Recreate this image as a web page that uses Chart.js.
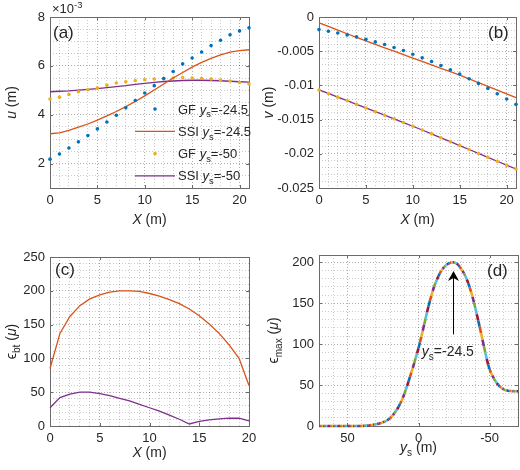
<!DOCTYPE html>
<html>
<head>
<meta charset="utf-8">
<script src="https://cdn.jsdelivr.net/npm/chart.js@4.4.1/dist/chart.umd.min.js"></script>
<style>
  body { margin: 0; background: #fff; }
  #fig { position: relative; width: 520px; height: 470px; }
  #fig canvas { position: absolute; }
</style>
</head>
<body>
<div id="fig">
  <canvas id="cA" width="260" height="235" style="left:0;top:0"></canvas>
  <canvas id="cB" width="260" height="235" style="left:260px;top:0"></canvas>
  <canvas id="cC" width="260" height="235" style="left:0;top:235px"></canvas>
  <canvas id="cD" width="260" height="235" style="left:260px;top:235px"></canvas>
</div>
<script>
// (a) horizontal displacement u, in units of 10^-3 m
const xA = [0, 1, 2, 3, 4, 5, 6, 7, 8, 9, 10, 11, 12, 13, 14, 15, 16, 17, 18, 19, 20, 21];
const uGF245 = [2.18, 2.39, 2.64, 2.89, 3.15, 3.42, 3.70, 3.98, 4.28, 4.58, 4.89, 5.19, 5.48, 5.77, 6.08, 6.32, 6.57, 6.83, 7.05, 7.27, 7.43, 7.56];
const uSSI245 = [3.22, 3.26, 3.36, 3.49, 3.62, 3.78, 3.95, 4.13, 4.33, 4.54, 4.77, 5.01, 5.26, 5.50, 5.73, 5.95, 6.14, 6.31, 6.45, 6.56, 6.62, 6.66];
const uGF50 = [4.64, 4.72, 4.83, 4.94, 5.02, 5.10, 5.21, 5.30, 5.35, 5.40, 5.43, 5.46, 5.49, 5.50, 5.52, 5.50, 5.49, 5.46, 5.42, 5.38, 5.32, 5.26];
const uSSI50 = [4.94, 4.96, 4.98, 5.01, 5.04, 5.07, 5.11, 5.15, 5.19, 5.24, 5.28, 5.32, 5.36, 5.38, 5.40, 5.41, 5.41, 5.40, 5.39, 5.37, 5.35, 5.33];
const legendNames = ['GF', 'SSI', 'GF', 'SSI'];
const legendYs = ['-24.5', '-24.5', '-50', '-50'];

// (b) vertical displacement v (m)
const vGF245 = [-0.00184, -0.00209, -0.00233, -0.00262, -0.00291, -0.00325, -0.00364, -0.00403, -0.00447, -0.00490, -0.00544,
  -0.00597, -0.00650, -0.00709, -0.00772, -0.00835, -0.00903, -0.00971, -0.01044, -0.01121, -0.01199, -0.01277];
const vSSI245 = [-0.00087, -0.00138, -0.00192, -0.00245, -0.00297, -0.00350, -0.00400, -0.00450, -0.00500, -0.00550, -0.00600,
  -0.00650, -0.00700, -0.00750, -0.00800, -0.00850, -0.00905, -0.00960, -0.01015, -0.01070, -0.01125, -0.01180];
const vGF50 = [-0.01068, -0.01120, -0.01172, -0.01225, -0.01277, -0.01330, -0.01383, -0.01436, -0.01489, -0.01542, -0.01595,
  -0.01651, -0.01708, -0.01765, -0.01822, -0.01880, -0.01937, -0.01994, -0.02051, -0.02108, -0.02166, -0.02223];
const vSSI50 = [-0.01066, -0.01118, -0.01171, -0.01224, -0.01277, -0.01330, -0.01383, -0.01436, -0.01489, -0.01543, -0.01597,
  -0.01652, -0.01709, -0.01766, -0.01823, -0.01880, -0.01937, -0.01994, -0.02052, -0.02109, -0.02166, -0.02222];

// (c) bending strain along X (micro-strain)
const xC = [0, 1, 2, 3, 4, 5, 6, 7, 8, 9, 10, 11, 12, 13, 14, 15, 16, 17, 18, 19, 20];
const ebt245 = [85, 137, 162, 178, 188, 194, 198, 200, 200, 199, 196, 192, 187, 181, 173, 163, 151, 137, 120, 100, 60];
const ebt50 = [27, 42, 47, 50, 50, 48, 45, 41, 37, 32, 27, 22, 16, 10, 3, 7, 9, 10.5, 11.5, 11.5, 7.5];

// (d) maximum strain against source position y_s
const ysD = [70, 69, 68, 67, 66, 65, 64, 63, 62, 61,
  60, 59, 58, 57, 56, 55, 54, 53, 52, 51,
  50, 49, 48, 47, 46, 45, 44, 43, 42, 41,
  40, 39, 38, 37, 36, 35, 34, 33, 32, 31,
  30, 29, 28, 27, 26, 25, 24, 23, 22, 21,
  20, 19, 18, 17, 16, 15, 14, 13, 12, 11,
  10, 9, 8, 7, 6, 5, 4, 3, 2, 1,
  0, -1, -2, -3, -4, -5, -6, -7, -8, -9,
  -10, -11, -12, -13, -14, -15, -16, -17, -18, -19,
  -20, -21, -22, -23, -24, -25, -26, -27, -28, -29,
  -30, -31, -32, -33, -34, -35, -36, -37, -38, -39,
  -40, -41, -42, -43, -44, -45, -46, -47, -48, -49,
  -50, -51, -52, -53, -54, -55, -56, -57, -58, -59,
  -60, -61, -62, -63, -64, -65, -66, -67, -68, -69,
  -70];
const emax = [0, 0, 0, 0, 0, 0, 0, 0, 0, 0,
  0, 0, 0, 0, 0, 0, 0, 0, 0, 0,
  0, 0, 0, 0, 0, 0, 0, 0, 0, 0.05,
  0.1, 0.2, 0.3, 0.4, 0.5, 0.7, 0.9, 1.2, 1.5, 1.8,
  2.2, 2.5, 2.9, 3.3, 3.8, 4.5, 5.2, 6.0, 7.0, 8.2,
  9.5, 11.3, 13.3, 15.5, 18.0, 20.5, 23.5, 27.0, 30.5, 34.5,
  39.0, 44.0, 49.0, 54.5, 60.0, 65.5, 71.0, 77.0, 83.0, 89.0,
  95, 102, 109, 116.5, 124, 131.5, 139, 146, 153, 159,
  165, 170.5, 175, 179, 183, 186.5, 189.5, 192, 194.2, 196,
  197.5, 198.6, 199.3, 199.8, 200, 200, 199.5, 198.5, 196.8, 194.6,
  192, 189.5, 186.5, 183, 179, 174.5, 169.5, 164, 158, 151,
  144, 136.5, 129, 121.5, 113.5, 105.5, 97.5, 89.5, 82, 75,
  69.5, 65, 61.5, 58, 55, 52.5, 50.5, 48.5, 47, 45.7,
  44.7, 43.9, 43.3, 43, 42.8, 42.7, 42.6, 42.5, 42.5, 42.5,
  42.5];

// major tick labels
const aXTicks = [0, 5, 10, 15, 20], aYTicks = [2, 4, 6, 8];
const bXTicks = [0, 5, 10, 15, 20], bYTicks = [-0.025, -0.02, -0.015, -0.01, -0.005, 0];
const cXTicks = [0, 5, 10, 15, 20], cYTicks = [0, 50, 100, 150, 200, 250];
const dXTicks = [-50, 0, 50], dYTicks = [0, 50, 100, 150, 200];

const COLORS = ['#0072BD', '#D95319', '#EDB120', '#7E2F8E', '#77AC30', '#4DBEEE', '#A2142F'];
const INK = '#262626';
const BOX = '#6a6a6a';
const FONT = "'Liberation Sans', Arial, sans-serif";
Chart.defaults.font.family = FONT;

function fontFor(st, size) {
  const small = st.endsWith('sub') || st === 'sup';
  return (st.startsWith('i') ? 'italic ' : '') + (small ? size * 0.72 : size) + 'px ' + FONT;
}

function drawRich(ctx, parts, x, y, size, align) {
  let w = 0;
  parts.forEach(([t, st]) => { ctx.font = fontFor(st, size); w += ctx.measureText(t).width; });
  let cx = align === 'center' ? x - w / 2 : x;
  ctx.textAlign = 'left';
  ctx.textBaseline = 'alphabetic';
  parts.forEach(([t, st]) => {
    ctx.font = fontFor(st, size);
    const dy = st.endsWith('sub') ? size * 0.3 : st === 'sup' ? -size * 0.42 : 0;
    ctx.fillText(t, cx, y + dy);
    cx += ctx.measureText(t).width;
  });
}

function drawRotated(ctx, parts, x, y, size) {
  ctx.save();
  ctx.translate(x, y);
  ctx.rotate(-Math.PI / 2);
  drawRich(ctx, parts, 0, size * 0.35, size, 'center');
  ctx.restore();
}

function ticksFor(min, max, step) {
  const n = Math.floor((max - min) / step + 1e-9), out = [];
  for (let i = 0; i <= n; i++) out.push(+(min + i * step).toFixed(6));
  return out;
}

function linAxis(min, max, step, majors, size, reverse) {
  const major = v => majors.find(m => Math.abs(m - v) < step / 100);
  return {
    type: 'linear', min: min, max: max, reverse: !!reverse,
    afterBuildTicks: s => { s.ticks = ticksFor(min, max, step).map(v => ({ value: v })); },
    afterFit: s => {
      if (s.isHorizontal()) s.height = size; else s.width = size;
      s.paddingLeft = s.paddingRight = s.paddingTop = s.paddingBottom = 0;
    },
    ticks: {
      autoSkip: false, maxRotation: 0, minRotation: 0, padding: 5, color: INK,
      font: { size: 13 },
      callback: v => major(v) !== undefined ? String(major(v)) : ''
    },
    grid: {
      drawTicks: false, lineWidth: 1,
      color: c => (c.tick && major(c.tick.value) !== undefined) ? 'rgba(0,0,0,0.32)' : 'rgba(0,0,0,0.2)'
    },
    border: { display: false, dash: [1, 2] }
  };
}

function pts(xs, ys) {
  return xs.map((x, i) => ({ x: x, y: ys[i] }));
}

function dots(label, xs, ys, color) {
  return { label: label, data: pts(xs, ys), showLine: false, pointRadius: 1.8, pointBorderWidth: 0,
    pointBackgroundColor: color, clip: false };
}

function curve(label, xs, ys, color) {
  return { label: label, data: pts(xs, ys), showLine: true, pointRadius: 0, borderColor: color,
    borderWidth: 1.3, clip: false };
}

function decor(spec) {
  return {
    id: 'decor',
    beforeDatasetsDraw(chart) {
      const ctx = chart.ctx, a = chart.chartArea;
      ctx.save();
      ctx.strokeStyle = BOX;
      ctx.lineWidth = 1;
      ctx.strokeRect(a.left + 0.5, a.top + 0.5, a.width, a.height);
      ctx.beginPath();
      spec.xMajor.forEach(m => {
        const p = Math.round(chart.scales.x.getPixelForValue(m)) + 0.5;
        ctx.moveTo(p, a.bottom); ctx.lineTo(p, a.bottom - 3);
        ctx.moveTo(p, a.top); ctx.lineTo(p, a.top + 3);
      });
      spec.yMajor.forEach(m => {
        const p = Math.round(chart.scales.y.getPixelForValue(m)) + 0.5;
        ctx.moveTo(a.left, p); ctx.lineTo(a.left + 3, p);
        ctx.moveTo(a.right, p); ctx.lineTo(a.right - 3, p);
      });
      ctx.stroke();
      ctx.restore();
    },
    afterDraw(chart) {
      const ctx = chart.ctx, a = chart.chartArea;
      ctx.save();
      ctx.fillStyle = INK;
      drawRich(ctx, [[spec.tag, '']], spec.tagX, spec.tagY, 17, 'left');
      drawRich(ctx, spec.xTitle, (a.left + a.right) / 2, spec.xTitleY, 14, 'center');
      drawRotated(ctx, spec.yTitle, spec.yTitleX, (a.top + a.bottom) / 2, 14);
      if (spec.extra) spec.extra(chart, ctx, a);
      ctx.restore();
    }
  };
}

function makeChart(id, datasets, xAxis, yAxis, padding, spec) {
  return new Chart(document.getElementById(id), {
    type: 'scatter',
    data: { datasets: datasets },
    options: {
      responsive: false, animation: false, devicePixelRatio: 1,
      layout: { padding: padding },
      scales: { x: xAxis, y: yAxis },
      plugins: { legend: { display: false }, tooltip: { enabled: false } }
    },
    plugins: [decor(spec)]
  });
}

const xTitle = [['X', 'i'], [' (m)', '']];

makeChart('cA', [
  dots('GF ys=-24.5', xA, uGF245, COLORS[0]),
  curve('SSI ys=-24.5', xA, uSSI245, COLORS[1]),
  dots('GF ys=-50', xA, uGF50, COLORS[2]),
  curve('SSI ys=-50', xA, uSSI50, COLORS[3])
], linAxis(0, 21, 1, aXTicks, 47), linAxis(1, 8, 0.5, aYTicks, 50),
{ top: 17, right: 11, left: 0, bottom: 0 }, {
  xMajor: aXTicks, yMajor: aYTicks, tag: '(a)', tagX: 53, tagY: 38,
  xTitle: xTitle, xTitleY: 224, yTitle: [['u', 'i'], [' (m)', '']], yTitleX: 11,
  extra(chart, ctx, a) {
    drawRich(ctx, [['×10', ''], ['-3', 'sup']], a.left + 2, a.top - 4, 13, 'left');
    legendNames.forEach((name, i) => {
      const ds = chart.data.datasets[i];
      const y = 109 + i * 22.3;
      if (ds.showLine) {
        ctx.strokeStyle = ds.borderColor; ctx.lineWidth = 1.3;
        ctx.beginPath(); ctx.moveTo(135, y); ctx.lineTo(175, y); ctx.stroke();
      } else {
        ctx.fillStyle = ds.pointBackgroundColor;
        ctx.beginPath(); ctx.arc(155, y, 1.8, 0, Math.PI * 2); ctx.fill();
      }
      ctx.fillStyle = INK;
      drawRich(ctx, [[name + ' ', ''], ['y', 'i'], ['s', 'sub'], ['=' + legendYs[i], '']], 178, y + 4.5, 13, 'left');
    });
  }
});

makeChart('cB', [
  dots('GF ys=-24.5', xA, vGF245, COLORS[0]),
  curve('SSI ys=-24.5', xA, vSSI245, COLORS[1]),
  dots('GF ys=-50', xA, vGF50, COLORS[2]),
  curve('SSI ys=-50', xA, vSSI50, COLORS[3])
], linAxis(0, 21, 1, bXTicks, 47), linAxis(-0.025, 0, 0.001, bYTicks, 59),
{ top: 17, right: 1, left: 0, bottom: 0 }, {
  xMajor: bXTicks, yMajor: bYTicks, tag: '(b)', tagX: 228, tagY: 38,
  xTitle: xTitle, xTitleY: 224, yTitle: [['v', 'i'], [' (m)', '']], yTitleX: 8
});

makeChart('cC', [
  curve('ys=-24.5', xC, ebt245, COLORS[1]),
  curve('ys=-50', xC, ebt50, COLORS[3])
], linAxis(0, 20, 1, cXTicks, 44), linAxis(0, 250, 10, cYTicks, 50),
{ top: 22, right: 11, left: 0, bottom: 0 }, {
  xMajor: cXTicks, yMajor: cYTicks, tag: '(c)', tagX: 55, tagY: 40,
  xTitle: xTitle, xTitleY: 222,
  yTitle: [['ϵ', ''], ['bt', 'sub'], [' (', ''], ['μ', 'i'], [')', '']], yTitleX: 11
});

makeChart('cD', [{
  label: 'emax', data: pts(ysD, emax), showLine: true, pointRadius: 0, borderWidth: 2.6,
  borderColor: COLORS[0], clip: false,
  segment: { borderColor: c => COLORS[c.p0DataIndex % COLORS.length] }
}], linAxis(-70, 70, 10, dXTicks, 44, true), linAxis(0, 209, 10, dYTicks, 59),
{ top: 20, right: 2, left: 0, bottom: 0 }, {
  xMajor: dXTicks, yMajor: dYTicks, tag: '(d)', tagX: 227, tagY: 41,
  xTitle: [['y', 'i'], ['s', 'sub'], [' (m)', '']], xTitleY: 217,
  yTitle: [['ϵ', ''], ['max', 'sub'], [' (', ''], ['μ', 'i'], [')', '']], yTitleX: 13,
  extra(chart, ctx) {
    const sx = chart.scales.x, sy = chart.scales.y;
    const x = Math.round(sx.getPixelForValue(-24.5)) + 0.5;
    const y0 = sy.getPixelForValue(112), y1 = sy.getPixelForValue(189.5);
    ctx.strokeStyle = '#000'; ctx.fillStyle = '#000'; ctx.lineWidth = 1;
    ctx.beginPath(); ctx.moveTo(x, y0); ctx.lineTo(x, y1 + 7); ctx.stroke();
    ctx.beginPath();
    ctx.moveTo(x, y1); ctx.lineTo(x - 5.5, y1 + 10); ctx.lineTo(x, y1 + 7); ctx.lineTo(x + 5.5, y1 + 10);
    ctx.closePath(); ctx.fill();
    ctx.fillStyle = INK;
    drawRich(ctx, [['y', 'i'], ['s', 'sub'], ['=-24.5', '']], sx.getPixelForValue(-2.3), sy.getPixelForValue(86), 14, 'left');
  }
});
</script>
</body>
</html>
